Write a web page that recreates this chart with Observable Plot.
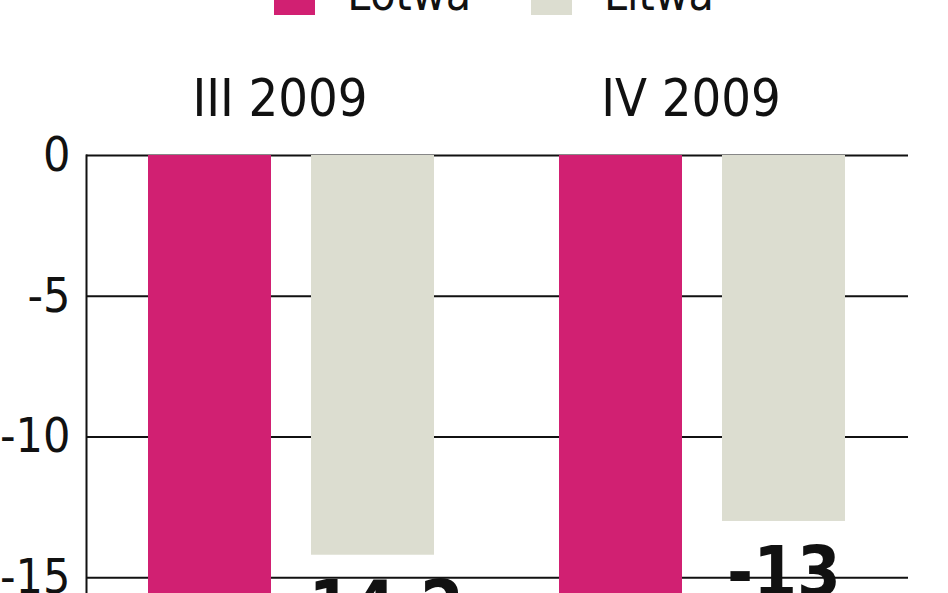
<!DOCTYPE html>
<html>
<head>
<meta charset="utf-8">
<script src="https://cdn.jsdelivr.net/npm/d3@7"></script>
<script src="https://cdn.jsdelivr.net/npm/@observablehq/plot@0.6"></script>
<style>
  html, body { margin: 0; padding: 0; background: #fff; overflow: hidden; }
  body { width: 948px; height: 593px; position: relative; font-family: "Liberation Sans Narrow", "DejaVu Sans Condensed", sans-serif; color: #111; }
  #legend { position: absolute; left: 274px; top: -29px; display: flex; align-items: flex-start; line-height: 1; font-size: 46px; }
  #legend .sw { width: 41px; height: 41px; margin-top: 3px; margin-right: 32px; }
  #legend .lab { margin-right: 60px; }
  #chart { position: absolute; left: 0; top: 0; }
</style>
</head>
<body>
<div id="legend"></div>
<div id="chart"></div>
<script>
const periods = ["III 2009", "IV 2009"];
const countries = ["Łotwa", "Litwa"];
const lotwa = [-19.0, -17.1];
const litwa = [-14.2, -13.0];
const yTicks = [0, -5, -10, -15, -20];
const colors = ["#d12072", "#dcddd0"];

const data = [];
periods.forEach((p, i) => {
  data.push({period: p, country: countries[0], value: lotwa[i]});
  data.push({period: p, country: countries[1], value: litwa[i]});
});
const fmt = v => String(v).replace(".", ",");

// legend
const legend = document.getElementById("legend");
countries.forEach((c, i) => {
  const sw = document.createElement("span");
  sw.className = "sw";
  sw.style.background = colors[i];
  const lab = document.createElement("span");
  lab.className = "lab";
  lab.textContent = c;
  legend.appendChild(sw);
  legend.appendChild(lab);
});

const font = '"Liberation Sans Narrow", "DejaVu Sans Condensed", sans-serif';
const chart = Plot.plot({
  width: 948,
  height: 818,
  marginLeft: 86,
  marginRight: 40,
  marginTop: 155,
  marginBottom: 100,
  style: {fontFamily: font, color: "#111", background: "transparent"},
  fx: {domain: periods, padding: 0, label: null},
  x: {domain: countries, paddingInner: 0.245, paddingOuter: 0.38, axis: null},
  y: {domain: [-20, 0], nice: false},
  color: {domain: countries, range: colors},
  marks: [
    Plot.ruleY(yTicks, {stroke: "#111", strokeWidth: 2}),
    Plot.barY(data, {fx: "period", x: "country", y: "value", fill: "country"}),
    Plot.frame({anchor: "left", facetAnchor: "left", stroke: "#111", strokeWidth: 2}),
    Plot.text(data, {fx: "period", x: "country", y: "value", text: d => fmt(d.value), lineAnchor: "top", dy: 25, fontSize: 70, fontWeight: "bold", fill: "#111"}),
    Plot.axisY({ticks: yTicks, tickSize: 0, tickPadding: 16, fontSize: 48, tickFormat: d => String(d), label: null}),
    Plot.axisFx({anchor: "top", tickSize: 0, tickPadding: 40, fontSize: 52, dx: -12, label: null})
  ]
});
document.getElementById("chart").appendChild(chart);
</script>
</body>
</html>
